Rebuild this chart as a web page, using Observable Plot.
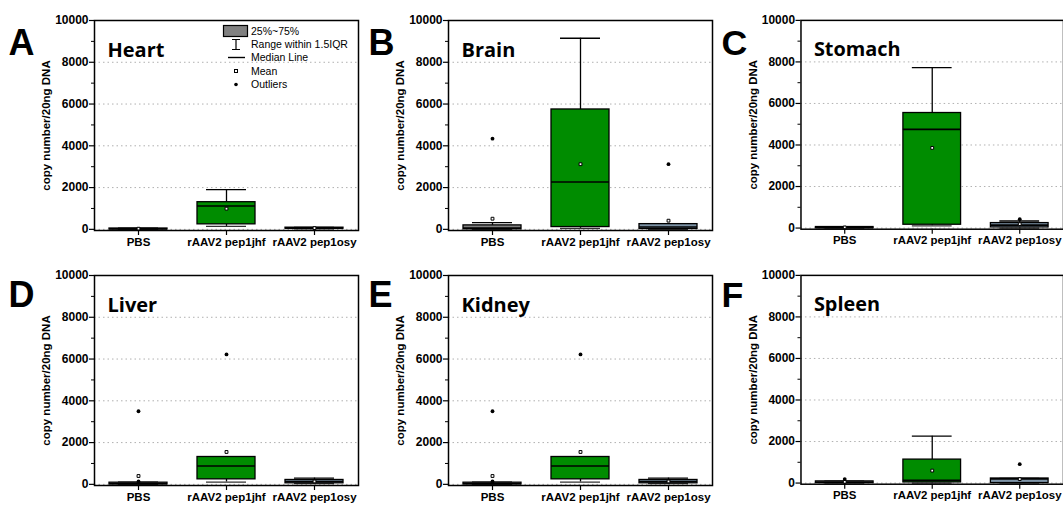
<!DOCTYPE html>
<html>
<head>
<meta charset="utf-8">
<script src="https://cdn.jsdelivr.net/npm/d3@7"></script>
<script src="https://cdn.jsdelivr.net/npm/@observablehq/plot@0.6"></script>
<style>
  body { margin: 0; background: #fff; }
  #page { position: relative; width: 1063px; height: 506px; overflow: hidden; background: #fff; }
  .panel { position: absolute; }
  .panel svg text { font-weight: bold; }
  #legend { position: absolute; left: 215px; top: 20px; font-family: "Liberation Sans", Arial, sans-serif; }
</style>
</head>
<body>
<div id="page"></div>
<script>
// ---- data ----
const organs = ["Heart", "Brain", "Stomach", "Liver", "Kidney", "Spleen"];
const letters = ["A", "B", "C", "D", "E", "F"];
const groups = ["PBS", "rAAV2 pep1jhf", "rAAV2 pep1osy"];
const groupColors = ["#808080", "#008c00", "#7d93a6"];
const yTicks = [0, 2000, 4000, 6000, 8000, 10000];
const yMinorTicks = [1000, 3000, 5000, 7000, 9000];
const yLabel = "copy number/20ng DNA";

// box statistics per organ, per group [PBS, pep1jhf, pep1osy]
const q1 =          [[0, 240, 30], [0, 110, 20], [0, 160, 30], [0, 240, 50], [0, 240, 50], [0, 30, 0]];
const median =      [[20, 1120, 60], [60, 2270, 110], [20, 4750, 140], [30, 880, 140], [30, 880, 140], [40, 130, 200]];
const q3 =          [[40, 1300, 80], [190, 5740, 250], [50, 5540, 240], [80, 1310, 210], [80, 1310, 210], [80, 1130, 220]];
const whiskerLow =  [[0, 140, 20], [0, 50, 0], [0, 110, 0], [0, 110, 40], [0, 110, 40], [0, 0, 0]];
const whiskerHigh = [[60, 1900, 90], [320, 9150, 270], [60, 7730, 340], [100, 1310, 300], [100, 1310, 300], [90, 2260, 230]];
const means =       [[30, 990, 60], [510, 3120, 415], [30, 3860, 190], [400, 1550, 140], [400, 1550, 140], [60, 600, 190]];
// outliers: [group index, value]
const outliers = [
  [],
  [[0, 4340], [2, 3120]],
  [[2, 430]],
  [[0, 3500], [0, 140], [1, 6220]],
  [[0, 3500], [0, 140], [1, 6220]],
  [[0, 190], [2, 910]]
];

const colLeft = [1, 355, 708];
const rowTop = [0, 255];
const letterDy = [20, 17];

function panel(i) {
  const col = i % 3, row = Math.floor(i / 3);
  const rows = groups.map((g, j) => ({
    g, fill: groupColors[j],
    q1: q1[i][j], med: median[i][j], q3: q3[i][j],
    lo: whiskerLow[i][j], hi: whiskerHigh[i][j], mean: means[i][j]
  }));
  const outs = outliers[i].map(([j, v]) => ({ g: groups[j], v }));
  const chart = Plot.plot({
    width: 357, height: 250,
    marginLeft: 93, marginRight: 0, marginTop: 20, marginBottom: 20,
    style: { fontFamily: "'Liberation Sans', Arial, sans-serif", fontSize: "11.5px", fontWeight: "bold", color: "black", background: "transparent", overflow: "visible" },
    x: { domain: groups, padding: 0 },
    y: { domain: [-55, 10000] },
    marks: [
      Plot.ruleY([0, 2000, 4000, 6000, 8000], { stroke: "#b0b0b0", strokeDasharray: "1.5,3", strokeWidth: 1 }),
      Plot.ruleX(rows, { x: "g", y1: "lo", y2: "q1", stroke: "black", strokeWidth: 1.3 }),
      Plot.ruleX(rows, { x: "g", y1: "q3", y2: "hi", stroke: "black", strokeWidth: 1.3 }),
      Plot.tickY(rows, { x: "g", y: "hi", insetLeft: 24, insetRight: 24, stroke: "black", strokeWidth: 1.3 }),
      Plot.tickY(rows, { x: "g", y: "lo", insetLeft: 24, insetRight: 24, stroke: "#333", strokeWidth: 1.3 }),
      Plot.barY(rows, { x: "g", y1: "q1", y2: "q3", fill: "fill", stroke: "black", strokeWidth: 1.3, insetLeft: 15, insetRight: 15 }),
      Plot.tickY(rows, { x: "g", y: "med", insetLeft: 15, insetRight: 15, stroke: "black", strokeWidth: 1.6 }),
      Plot.dot(rows, { x: "g", y: "mean", symbol: "square", r: 1.6, fill: "white", stroke: "black", strokeWidth: 1 }),
      Plot.dot(outs, { x: "g", y: "v", symbol: "circle", r: 1.9, fill: "black" }),
      Plot.frame({ stroke: "black", strokeWidth: 1.5 }),
      Plot.axisY(yTicks, { tickSize: 5, tickPadding: 1, fontWeight: "bold", fontSize: 12, tickFormat: "d", label: null, strokeWidth: 1.2 }),
      Plot.axisY(yMinorTicks, { tickSize: 3, tickFormat: () => "", label: null }),
      Plot.axisX({ tickSize: 5, tickPadding: 2, fontWeight: "bold", fontSize: 11.5, label: null, strokeWidth: 1.2 }),
      Plot.text([yLabel], { frameAnchor: "left", dx: -48, rotate: -90, textAnchor: "middle", fontWeight: "bold", fontSize: 11.5 }),
      Plot.text([organs[i]], { frameAnchor: "top-left", dx: 13, dy: 22, textAnchor: "start", fontFamily: "'Open Sans', sans-serif", fontWeight: "bold", fontSize: 20 }),
      Plot.text([letters[i]], { frameAnchor: "top-left", dx: col === 0 ? -86 : -80, dy: letterDy[row] - 11, textAnchor: "start", fontWeight: "bold", fontSize: 36 })
    ]
  });
  const div = document.createElement("div");
  div.className = "panel";
  div.style.left = colLeft[col] + "px";
  div.style.top = rowTop[row] + "px";
  div.appendChild(chart);
  return div;
}

const page = document.getElementById("page");
organs.forEach((_, i) => page.appendChild(panel(i)));

// legend (panel A)
const legendItems = ["25%~75%", "Range within 1.5IQR", "Median Line", "Mean", "Outliers"];
const lg = document.createElement("div");
lg.id = "legend";
lg.innerHTML = `<svg width="150" height="75" font-size="10.5" font-family="'Liberation Sans', Arial, sans-serif">
  <rect x="8.5" y="5.5" width="24" height="11" fill="#808080" stroke="black" stroke-width="1.2"></rect>
  <path d="M17 19.5H25M21 19.5V29.5M17 29.5H25" stroke="black" stroke-width="1.2" fill="none"></path>
  <path d="M13 37.5H30" stroke="black" stroke-width="1.4"></path>
  <rect x="19.5" y="49.5" width="3" height="3" fill="white" stroke="black" stroke-width="1"></rect>
  <circle cx="21" cy="64.5" r="1.8" fill="black"></circle>
  ${legendItems.map((t, k) => `<text x="36" y="${[14.5, 27.5, 40.5, 54.5, 67.5][k]}">${t}</text>`).join("")}
</svg>`;
page.appendChild(lg);
</script>
</body>
</html>
